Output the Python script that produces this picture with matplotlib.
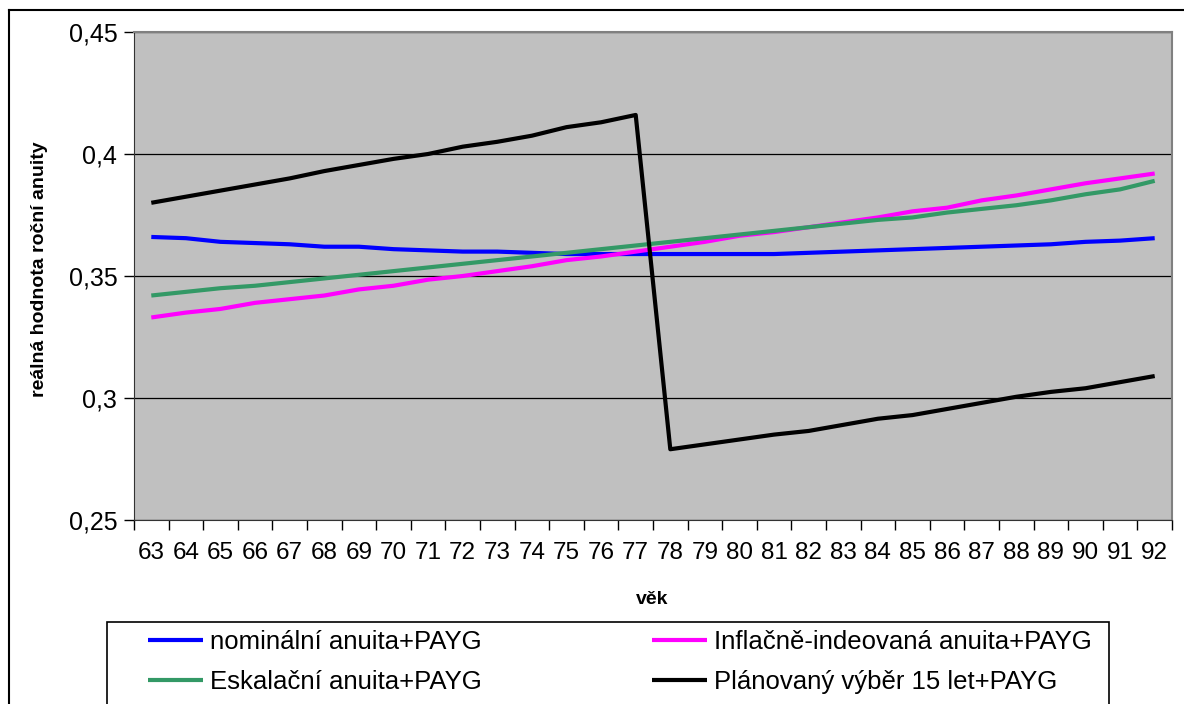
import matplotlib
matplotlib.use("Agg")
import matplotlib.pyplot as plt
from matplotlib.lines import Line2D
from matplotlib.patches import Rectangle

plt.rcParams['font.family'] = ['Liberation Sans', 'DejaVu Sans']

ages = list(range(63, 93))
nominal = [0.366, 0.3655, 0.364, 0.3635, 0.363, 0.362, 0.362, 0.361, 0.3605, 0.360,
           0.360, 0.3595, 0.359, 0.359, 0.359, 0.359, 0.359, 0.359, 0.359, 0.3595,
           0.360, 0.3605, 0.361, 0.3615, 0.362, 0.3625, 0.363, 0.364, 0.3645, 0.3655]
inflation = [0.333, 0.335, 0.3365, 0.339, 0.3405, 0.342, 0.3445, 0.346, 0.3485, 0.350,
             0.352, 0.354, 0.3565, 0.358, 0.360, 0.362, 0.364, 0.3665, 0.368, 0.370,
             0.372, 0.374, 0.3765, 0.378, 0.381, 0.383, 0.3855, 0.388, 0.390, 0.392]
escalating = [0.342, 0.3435, 0.345, 0.346, 0.3475, 0.349, 0.3505, 0.352, 0.3535, 0.355,
              0.3565, 0.358, 0.3595, 0.361, 0.3625, 0.364, 0.3655, 0.367, 0.3685, 0.370,
              0.3715, 0.373, 0.374, 0.376, 0.3775, 0.379, 0.381, 0.3835, 0.3855, 0.389]
planned = [0.380, 0.3825, 0.385, 0.3875, 0.390, 0.393, 0.3955, 0.398, 0.400, 0.403,
           0.405, 0.4075, 0.411, 0.413, 0.416, 0.279, 0.281, 0.283, 0.285, 0.2865,
           0.289, 0.2915, 0.293, 0.2955, 0.298, 0.3005, 0.3025, 0.304, 0.3065, 0.309]

labels = ["nominální anuita+PAYG", "Inflačně-indeovaná anuita+PAYG",
          "Eskalační anuita+PAYG", "Plánovaný výběr 15 let+PAYG"]
colors = ["#0000FF", "#FF00FF", "#339966", "#000000"]
yticks = [0.25, 0.3, 0.35, 0.4, 0.45]
ytick_labels = ["0,25", "0,3", "0,35", "0,4", "0,45"]

W, H = 1184, 704
fig = plt.figure(figsize=(W / 100, H / 100), dpi=100)
ax = fig.add_axes([134 / W, 1 - 520 / H, (1172 - 134) / W, (520 - 32) / H])
ax.set_facecolor("#C0C0C0")

x = list(range(len(ages)))
series = [nominal, inflation, escalating, planned]
handles = []
for s, c, l in zip(series, colors, labels):
    h, = ax.plot(x, s, color=c, lw=3.0, label=l, solid_capstyle='butt', zorder=3)
    handles.append(h)

ax.set_xlim(-0.5, len(ages) - 0.5)
ax.set_ylim(0.25, 0.45)
ax.set_yticks(yticks)
ax.set_yticklabels(ytick_labels, fontsize=18)
ax.set_xticks(x)
ax.set_xticklabels([str(a) for a in ages], fontsize=17.5)
ax.tick_params(axis='x', which='major', length=0, pad=16)
ax.set_xticks([i - 0.5 for i in range(len(ages) + 1)], minor=True)
ax.tick_params(axis='x', which='minor', length=7, width=1, direction='out', color='black')
ax.tick_params(axis='y', length=7, width=1, direction='out', pad=5)
ax.yaxis.grid(True, color='black', lw=0.9, zorder=1)
ax.set_axisbelow(True)
for side in ['top', 'right']:
    ax.spines[side].set_color('#808080')
    ax.spines[side].set_linewidth(1.5)
ax.spines['left'].set_color('#333333')
ax.spines['bottom'].set_color('#333333')

ax.set_ylabel("reálná hodnota roční anuity", fontsize=14, fontweight='bold')
ax.yaxis.label.set_va('center')
ax.yaxis.set_label_coords((40 - 134) / 1038, (520 - 269) / 488)
ax.set_xlabel("věk", fontsize=14, fontweight='bold')
ax.xaxis.label.set_va('center')
ax.xaxis.set_label_coords((652 - 134) / 1038, (520 - 600) / 488)

# legend frame
fig.patches.append(Rectangle((107 / W, -0.05), (1109 - 107) / W, (704 - 622) / H + 0.05,
                             transform=fig.transFigure, fill=False, edgecolor='black',
                             lw=1.2, zorder=0))
order = [0, 2, 1, 3]
fig.legend([handles[i] for i in order], [labels[i] for i in order], ncol=2,
           loc='upper left', bbox_to_anchor=(148 / W, 1 - 630 / H), frameon=False,
           fontsize=18.5, handlelength=2.15, handletextpad=0.28, columnspacing=6.6,
           borderpad=0, borderaxespad=0, labelspacing=0.62)

# outer chart border
fig.add_artist(Line2D([9 / W, 9 / W], [0, 1 - 10 / H], transform=fig.transFigure,
                      color='black', lw=1.5))
fig.add_artist(Line2D([9 / W, 1], [1 - 10 / H, 1 - 10 / H], transform=fig.transFigure,
                      color='black', lw=1.5))

fig.savefig("out.png", dpi=100)
